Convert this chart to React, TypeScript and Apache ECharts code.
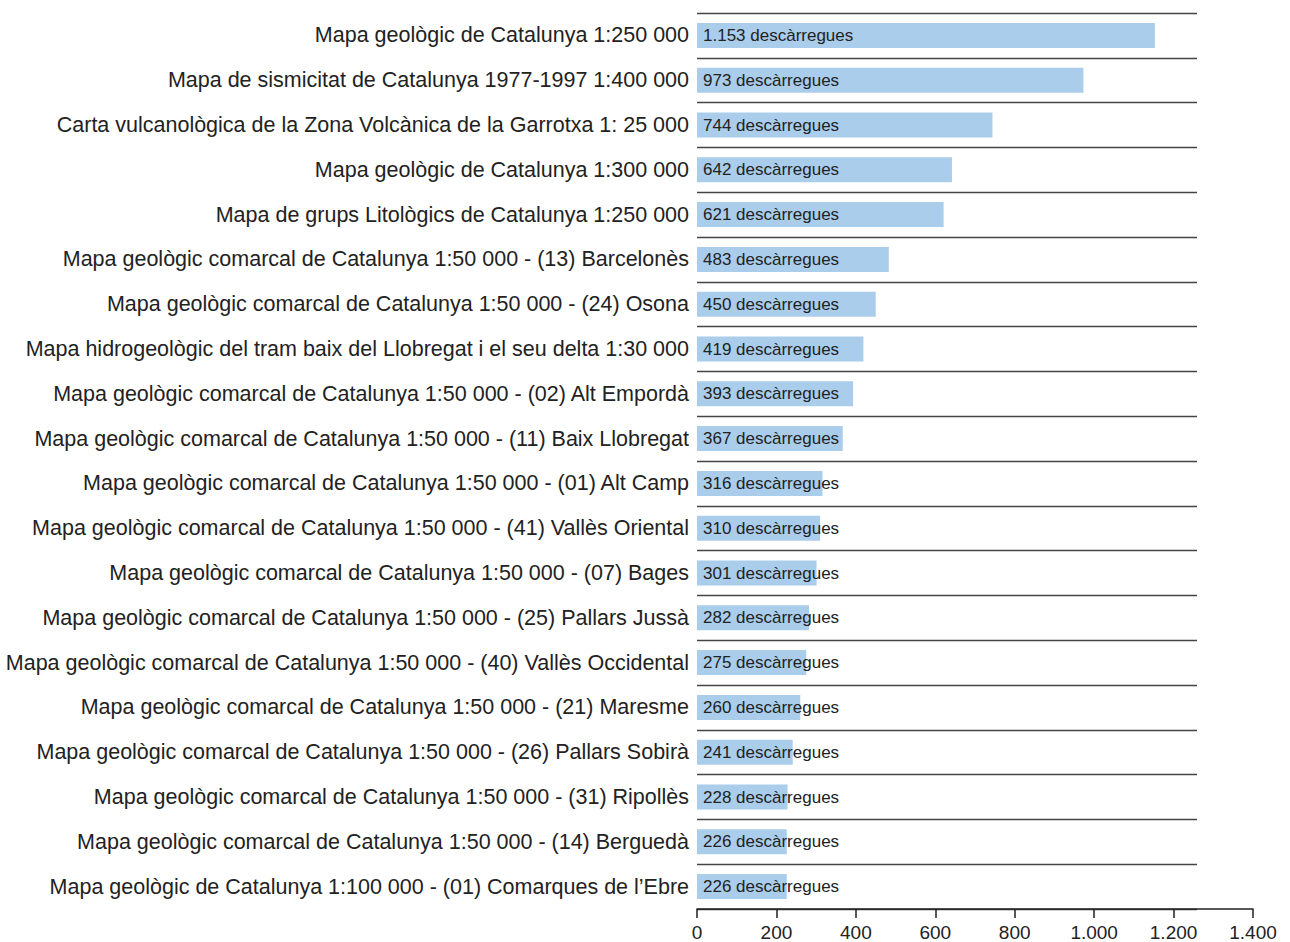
import React, { useEffect, useRef } from "react";
import * as echarts from "echarts";

const categories: string[] = [
  "Mapa geològic de Catalunya 1:250 000",
  "Mapa de sismicitat de Catalunya 1977-1997 1:400 000",
  "Carta vulcanològica de la Zona Volcànica de la Garrotxa 1: 25 000",
  "Mapa geològic de Catalunya 1:300 000",
  "Mapa de grups Litològics de Catalunya 1:250 000",
  "Mapa geològic comarcal de Catalunya 1:50 000 - (13) Barcelonès",
  "Mapa geològic comarcal de Catalunya 1:50 000 - (24) Osona",
  "Mapa hidrogeològic del tram baix del Llobregat i el seu delta 1:30 000",
  "Mapa geològic comarcal de Catalunya 1:50 000 - (02) Alt Empordà",
  "Mapa geològic comarcal de Catalunya 1:50 000 - (11) Baix Llobregat",
  "Mapa geològic comarcal de Catalunya 1:50 000 - (01) Alt Camp",
  "Mapa geològic comarcal de Catalunya 1:50 000 - (41) Vallès Oriental",
  "Mapa geològic comarcal de Catalunya 1:50 000 - (07) Bages",
  "Mapa geològic comarcal de Catalunya 1:50 000 - (25) Pallars Jussà",
  "Mapa geològic comarcal de Catalunya 1:50 000 - (40) Vallès Occidental",
  "Mapa geològic comarcal de Catalunya 1:50 000 - (21) Maresme",
  "Mapa geològic comarcal de Catalunya 1:50 000 - (26) Pallars Sobirà",
  "Mapa geològic comarcal de Catalunya 1:50 000 - (31) Ripollès",
  "Mapa geològic comarcal de Catalunya 1:50 000 - (14) Berguedà",
  "Mapa geològic de Catalunya 1:100 000 - (01) Comarques de l\u2019Ebre",
];

const downloads: number[] = [
  1153, 973, 744, 642, 621, 483, 450, 419, 393, 367, 316, 310, 301, 282, 275, 260, 241, 228, 226, 226,
];

const unitLabel = "descàrregues";

const fmt = (v: number): string =>
  String(Math.round(v)).replace(/\B(?=(\d{3})+(?!\d))/g, ".");

export default function App() {
  const ref = useRef<HTMLDivElement>(null);
  useEffect(() => {
    if (!ref.current) return;
    const chart = echarts.init(ref.current, null, { renderer: "svg" });
    const font = "'Liberation Sans', Arial, Helvetica, sans-serif";
    chart.setOption({
      animation: false,
      textStyle: { fontFamily: font },
      grid: [
        { left: 697, top: 13, right: 37, bottom: 33 },
        { left: 697, top: 13, right: 93, bottom: 33 },
      ],
      xAxis: [
        {
          type: "value",
          gridIndex: 0,
          min: 0,
          max: 1400,
          interval: 200,
          axisLine: { show: true, lineStyle: { color: "#222", width: 1.5 } },
          axisTick: { show: true, length: 9, lineStyle: { color: "#222", width: 1.5 } },
          splitLine: { show: false },
          axisLabel: {
            color: "#222",
            fontSize: 19,
            fontFamily: font,
            margin: 14,
            formatter: (v: number) => fmt(v),
          },
        },
        {
          type: "value",
          gridIndex: 1,
          min: 0,
          max: 1400,
          show: false,
        },
      ],
      yAxis: [
        {
          type: "category",
          gridIndex: 0,
          data: categories,
          inverse: true,
          axisLine: { show: false },
          axisTick: { show: false },
          splitLine: { show: false },
          axisLabel: {
            color: "#222",
            fontSize: 21.5,
            fontFamily: font,
            margin: 8,
            interval: 0,
            padding: [3, 0, 0, 0],
          },
        },
        {
          type: "category",
          gridIndex: 1,
          data: categories,
          inverse: true,
          axisLine: { show: false },
          axisTick: { show: false },
          axisLabel: { show: false },
          splitLine: { show: true, interval: 0, lineStyle: { color: "#444", width: 1.3 } },
        },
      ],
      series: [
        {
          type: "bar",
          xAxisIndex: 0,
          yAxisIndex: 0,
          data: downloads,
          barWidth: 25,
          itemStyle: { color: "#aacdec" },
          label: {
            show: true,
            position: "insideLeft",
            distance: 6,
            color: "#222",
            fontSize: 17,
            fontFamily: font,
            padding: [2, 0, 0, 0],
            formatter: (p: any) => `${fmt(p.value)} ${unitLabel}`,
          },
          z: 3,
        },
      ],
    });
    return () => chart.dispose();
  }, []);
  return (
    <div
      ref={ref}
      style={{ position: "fixed", left: 0, top: 0, width: 1290, height: 942, background: "#fff" }}
    />
  );
}
